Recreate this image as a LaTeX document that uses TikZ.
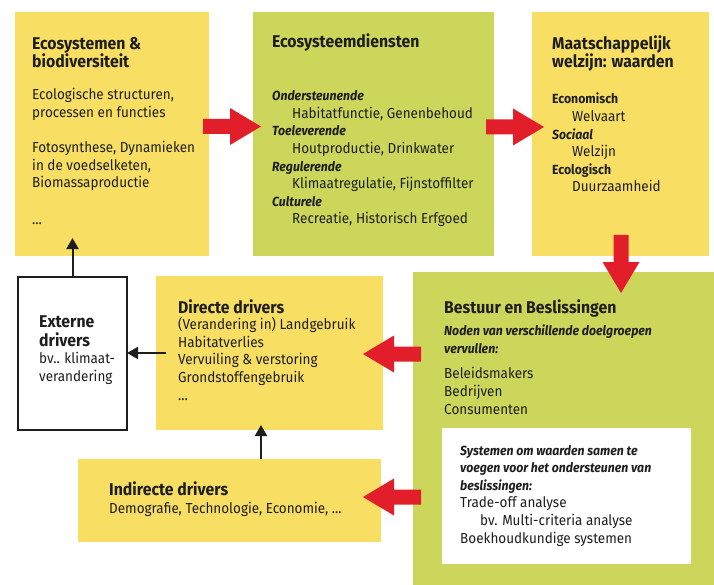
\documentclass[tikz,border=0pt]{standalone}
\usepackage{fontspec}
\setmainfont[FakeStretch=0.93]{Fira Sans}
\usetikzlibrary{arrows.meta}

\definecolor{yelbox}{RGB}{248,222,99}
\definecolor{grnbox}{RGB}{204,214,91}
\definecolor{redarr}{RGB}{226,30,42}
\definecolor{inkblack}{RGB}{30,30,30}

% text nodes are anchored at the baseline of their last line
\tikzset{
  box/.style={anchor=north west, inner sep=0pt, outer sep=0pt},
  ybox/.style={box, fill=yelbox},
  gbox/.style={box, fill=grnbox},
  wbox/.style={box, fill=white},
  kbox/.style={box, fill=white, draw=inkblack, line width=2pt},
  txt/.style={anchor=base west, inner sep=0pt, align=left, text=inkblack,
    font=\fontsize{14.5}{17.6}\selectfont},
  ttl/.style={txt, font=\fontsize{17}{18.5}\selectfont\bfseries},
  lbl/.style={txt, font=\fontsize{13.2}{17.6}\selectfont\bfseries\itshape},
  conn/.style={draw=inkblack, line width=2pt, -{Triangle[length=11pt,width=12pt]}},
  fatarrow/.pic={\fill[redarr] (0,-7.5) -- (27,-7.5) -- (27,-18.5) -- (58,0)
    -- (27,18.5) -- (27,7.5) -- (0,7.5) -- cycle;}
}
\newcommand\lab[1]{{\fontsize{13.2}{17.6}\selectfont\bfseries\itshape #1}}
\newcommand\ind{\hspace*{20pt}}

\begin{document}
\begin{tikzpicture}[x=1pt, y=-1pt]
\useasboundingbox (0,0) rectangle (714,585);

% boxes
\node[ybox, minimum width=194pt, minimum height=244pt] (eco)  at (15,12)  {};
\node[gbox, minimum width=241pt, minimum height=244pt] (ecd)  at (253,12) {};
\node[ybox, minimum width=177pt, minimum height=244pt] (maat) at (532,12) {};
\node[gbox, minimum width=301pt, minimum height=313pt] (best) at (413,272) {};
\node[wbox, minimum width=249pt, minimum height=136pt] (sys)  at (442,428) {};
\node[kbox, minimum width=109pt, minimum height=153pt] (ext)  at (18,277) {};
\node[ybox, minimum width=227pt, minimum height=154pt] (dir)  at (156,276) {};
\node[ybox, minimum width=303pt, minimum height=83pt]  (indr) at (78,459)  {};

% Ecosystemen & biodiversiteit
\node[ttl] (ecoT) at (32,68) {Ecosystemen \&\\biodiversiteit};
\node[txt] (ecoB) at (32,188) {Ecologische structuren,\\processen en functies\\[17.6pt]Fotosynthese, Dynamieken\\in de voedselketen,\\Biomassaproductie};
\node[txt] (ecoD) at (32,225) {...};

% Ecosysteemdiensten
\node[ttl] (ecdT) at (272,48) {Ecosysteemdiensten};
\node[txt] (ecdB) at (272,224) {\lab{Ondersteunende}\\\ind Habitatfunctie, Genenbehoud\\
  \lab{Toeleverende}\\\ind Houtproductie, Drinkwater\\
  \lab{Regulerende}\\\ind Klimaatregulatie, Fijnstoffilter\\
  \lab{Culturele}\\\ind Recreatie, Historisch Erfgoed};

% Maatschappelijk welzijn
\node[ttl] (maatT) at (552,68) {Maatschappelijk\\welzijn: waarden};
\node[txt] (maatB) at (552,192) {{\fontsize{13.2}{17.6}\selectfont\bfseries Economisch}\\\ind Welvaart\\
  \lab{Sociaal}\\\ind Welzijn\\
  {\fontsize{13.2}{17.6}\selectfont\bfseries Ecologisch}\\\ind Duurzaamheid};

% Bestuur en Beslissingen
\node[ttl] (bestT) at (444,313) {Bestuur en Beslissingen};
\node[lbl] (bestN) at (444,353) {Noden van verschillende doelgroepen\\vervullen:};
\node[txt, font=\fontsize{14.5}{18}\selectfont] (bestL) at (444,414) {Beleidsmakers\\Bedrijven\\Consumenten};
\node[txt] (sysT) at (460,543) {\lab{Systemen om waarden samen te}\\
  \lab{voegen voor het ondersteunen van}\\\lab{beslissingen:}\\
  Trade-off analyse\\\ind bv. Multi-criteria analyse\\Boekhoudkundige systemen};

% Externe drivers
\node[ttl] (extT) at (39,346) {Externe\\drivers};
\node[txt] (extB) at (39,381) {bv.. klimaat-\\verandering};

% Directe drivers
\node[ttl] (dirT) at (178,313) {Directe drivers};
\node[txt] (dirB) at (178,400) {(Verandering in) Landgebruik\\Habitatverlies\\Vervuiling \& verstoring\\Grondstoffengebruik\\...};

% Indirecte drivers
\node[ttl] (indT) at (109,495) {Indirecte drivers};
\node[txt] (indB) at (109,513) {Demografie, Technologie, Economie, ...};

% red flow arrows
\pic at (203,126.5) {fatarrow};
\pic at (486,127) {fatarrow};
\pic[rotate=-90] at (621,235) {fatarrow};
\pic[rotate=180] at (421,354) {fatarrow};
\pic[rotate=180] at (421,497) {fatarrow};

% black connectors
\coordinate (extTip) at ([yshift=18pt]ext.north |- eco.south);
\draw[conn] (ext.north) -- (extTip);
\coordinate (dirTail) at ([xshift=10pt]dir.west);
\draw[conn] (dirTail) -- (ext.east |- dirTail);
\coordinate (dirTip) at ([xshift=-8.5pt,yshift=5pt]dir.south);
\draw[conn] (dirTip |- indr.north) -- (dirTip);
\end{tikzpicture}
\end{document}
